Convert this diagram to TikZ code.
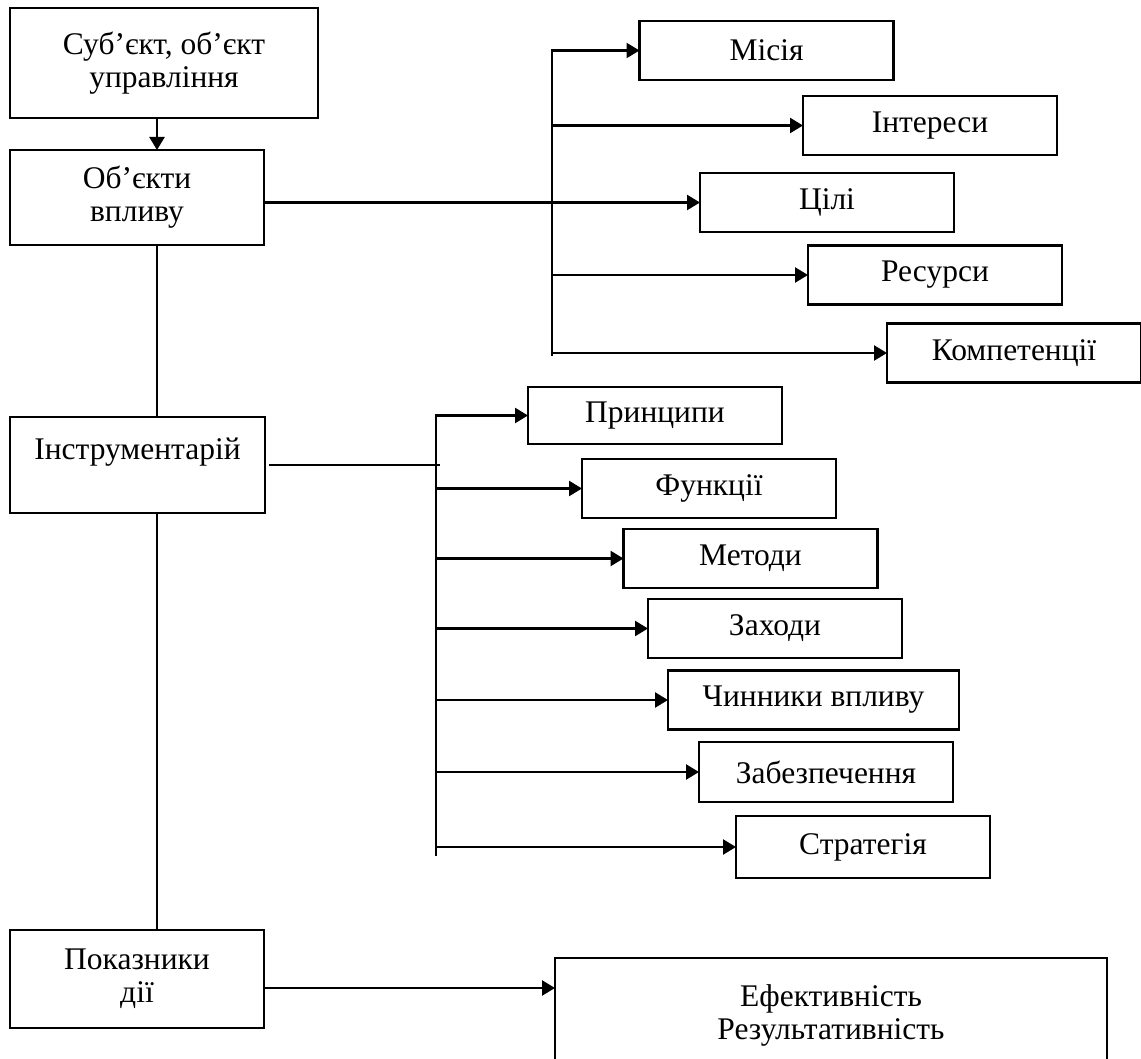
\documentclass[tikz,border=0pt]{standalone}
\usepackage{fontspec}
\setmainfont{Liberation Serif}
\usetikzlibrary{arrows.meta,calc,positioning}

\begin{document}
\begin{tikzpicture}[x=0.5pt,y=-0.5pt,
		>={Triangle[length=6.5pt,width=7.5pt]},
		every node/.style={font=\fontsize{15.75}{16.5}\selectfont},
		box/.style={draw,line width=1.1pt,inner sep=0pt,outer sep=0pt,
			minimum width=127pt,minimum height=29.5pt,align=center},
		conn/.style={line width=1.2pt},
		thinconn/.style={line width=0.8pt}]
		\useasboundingbox (0,0) rectangle (1141,1059);
		\clip (0,0) rectangle (1141,1059);
		% left column
		\node (subj)  [box,minimum width=154pt,minimum height=55pt] at (164,63) {Суб’єкт, об’єкт\\управління};
		\node (obj)   [box,minimum height=47.5pt] at (137,197.5) {Об’єкти\\впливу};
		\node (instr) [box,minimum width=127.5pt,minimum height=48pt,text depth=16pt] at (137.5,465) {Інструментарій};
		\node (pok)   [box,minimum height=49pt] at (137,979) {Показники\\дії};
		% upper group
		\node (misia) [box] at (766.5,50.5) {Місія};
		\node (inter) [box] at (930,125.5) {Інтереси};
		\node (cili)  [box] at (827,202.5) {Цілі};
		\node (resur) [box] at (935,275) {Ресурси};
		\node (komp)  [box] at (1014,353) {Компетенції};
		% middle group
		\node (pryn)  [box,minimum height=28.5pt] at (655,415.5) {Принципи};
		\node (funk)  [box] at (709,488.5) {Функції};
		\node (metod) [box] at (750.5,558.5) {Методи};
		\node (zakh)  [box] at (775,628.5) {Заходи};
		\node (chyn)  [box,minimum width=145.5pt] at (813.5,700) {Чинники впливу};
		\node (zabez) [box,minimum height=30pt] at (826,772) {Забезпечення};
		\node (strat) [box,minimum height=31pt] at (863,847) {Стратегія};
		% result
		\node (efekt) [box,minimum width=276pt,minimum height=75pt,text depth=21pt] at (831,1033) {Ефективність\\Результативність};

		\coordinate (spine)  at (157,0);
		\coordinate (topbus) at (552,0);
		\coordinate (midbus) at (436,0);

		\draw[conn,->] (subj.south -| spine) -- (obj.north -| spine);
		\draw[conn] (obj.south -| spine) -- (instr.north -| spine);
		\draw[conn] (instr.south -| spine) -- (pok.north -| spine);

		\draw[conn,->] (obj.east |- cili.west) -- (cili.west);
		\draw[conn,->] ($(komp.west -| topbus)+(0,3)$) -- (misia.west -| topbus) -- (misia.west);
		\foreach \b in {inter,resur,komp}
			\draw[conn,->] (\b.west -| topbus) -- (\b.west);

		\draw[thinconn] ([xshift=2pt]instr.east) -- ([xshift=2pt]instr.east -| midbus);
		\draw[conn,->] ($(strat.west -| midbus)+(0,9)$) -- (pryn.west -| midbus) -- (pryn.west);
		\foreach \b in {funk,metod,zakh,chyn,zabez,strat}
			\draw[conn,->] (\b.west -| midbus) -- (\b.west);

		\draw[conn,->] ([yshift=-4.5pt]pok.east) -- ([yshift=-4.5pt]pok.east -| efekt.west);
	\end{tikzpicture}
\end{document}
